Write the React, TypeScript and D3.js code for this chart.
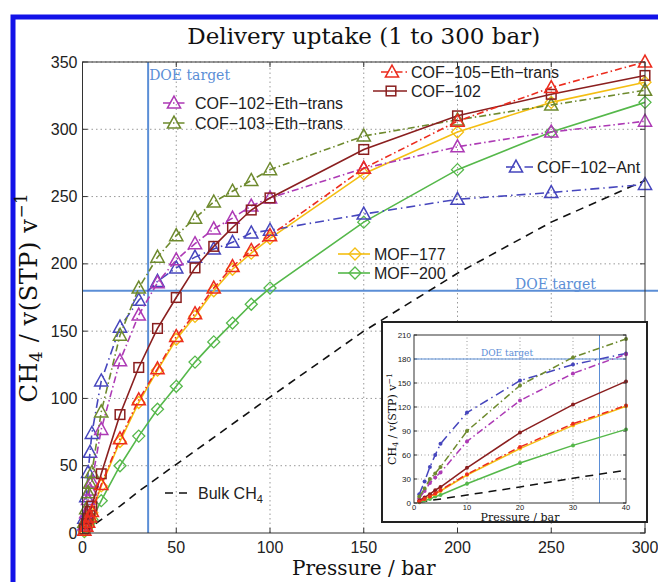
import React from 'react';
import * as d3 from 'd3';

// pressures (bar) shared by all adsorbent series
const pressures = [1, 2, 3, 4, 5, 10, 20, 30, 40, 50, 60, 70, 80, 90, 100, 150, 200, 250, 300];

const cof105EthTrans = [2, 5, 8, 12, 16, 36, 70, 99, 122, 146, 163, 182, 198, 210, 221, 271, 306, 331, 350];
const cof102 = [3, 7, 11, 16, 20, 44, 88, 123, 152, 175, 197, 213, 227, 240, 249, 285, 310, 326, 340];
const cof102EthTrans = [6, 15, 25, 32, 38, 77, 128, 162, 186, 203, 215, 226, 234, 243, 249, 271, 287, 298, 306];
const cof103EthTrans = [8, 18, 30, 37, 45, 90, 147, 182, 205, 221, 234, 246, 254, 262, 270, 295, 307, 318, 329];
const cof102Ant = [11, 27, 45, 60, 74, 113, 153, 173, 187, 197, 205, 211, 216, 223, 225, 237, 248, 253, 259];
const mof177 = [2, 5, 8, 11, 15, 35, 68, 97, 121, 144, 161, 180, 196, 208, 219, 267, 298, 320, 335];
const mof200 = [1, 3, 5, 8, 10, 24, 50, 72, 92, 109, 127, 142, 156, 170, 182, 231, 270, 298, 320];

const bulkPressures = [1, 10, 20, 30, 40, 50, 100, 150, 200, 250, 300];
const bulkCH4 = [1, 10, 20, 31, 41, 51, 101, 150, 193, 231, 262];

const doeTarget = 180;
const doePressure = 35;

const xTicks = [0, 50, 100, 150, 200, 250, 300];
const yTicks = [0, 50, 100, 150, 200, 250, 300, 350];
const insetXTicks = [0, 10, 20, 30, 40];
const insetYTicks = [0, 30, 60, 90, 120, 150, 180, 210];

const DASHDOT = '7,3,1.5,3';

const series = [
  { name: 'Bulk', values: bulkCH4, px: bulkPressures, color: '#111', dash: '8,6', marker: 'none' },
  { name: 'MOF−200', values: mof200, px: pressures, color: '#55b84a', dash: null, marker: 'diamond' },
  { name: 'MOF−177', values: mof177, px: pressures, color: '#f4be12', dash: null, marker: 'diamond' },
  { name: 'COF−102−Ant', values: cof102Ant, px: pressures, color: '#4646bd', dash: '9,4,1.5,4', marker: 'tri' },
  { name: 'COF−102−Eth−trans', values: cof102EthTrans, px: pressures, color: '#ad3ab5', dash: DASHDOT, marker: 'tri' },
  { name: 'COF−103−Eth−trans', values: cof103EthTrans, px: pressures, color: '#6e8a2e', dash: DASHDOT, marker: 'tri' },
  { name: 'COF−102', values: cof102, px: pressures, color: '#8a1f1f', dash: null, marker: 'square' },
  { name: 'COF−105−Eth−trans', values: cof105EthTrans, px: pressures, color: '#ec2c1e', dash: DASHDOT, marker: 'tri' },
];

// legend placement in pixels
const legend = [
  { s: 'COF−105−Eth−trans', x0: 381, x1: 407, mx: 392, tx: 411, y: 72 },
  { s: 'COF−102', x0: 373, x1: 407, mx: 391, tx: 411, y: 91 },
  { s: 'COF−102−Eth−trans', x0: 163, x1: 186, mx: 174, tx: 195, y: 103 },
  { s: 'COF−103−Eth−trans', x0: 163, x1: 186, mx: 174, tx: 195, y: 123 },
  { s: 'COF−102−Ant', x0: 506, x1: 533, mx: 516, tx: 537, y: 167 },
  { s: 'MOF−177', x0: 338, x1: 370, mx: 355, tx: 374, y: 254 },
  { s: 'MOF−200', x0: 338, x1: 370, mx: 355, tx: 374, y: 273 },
];

const SANS = "'Liberation Sans', Arial, sans-serif";
const SERIF = "'DejaVu Serif', serif";
const DOE = '#5b8ed6';

function Marker({ type, x, y, color, size = 12 }) {
  const s = size;
  if (type === 'tri') {
    const d = `M${x},${y - s * 0.58}L${x + s * 0.55},${y + s * 0.42}L${x - s * 0.55},${y + s * 0.42}Z`;
    return <path d={d} fill="none" stroke={color} strokeWidth={1.5} />;
  }
  if (type === 'square') {
    const h = s * 0.4;
    return <rect x={x - h} y={y - h} width={2 * h} height={2 * h} fill="none" stroke={color} strokeWidth={1.5} />;
  }
  if (type === 'diamond') {
    const h = s * 0.5;
    const d = `M${x},${y - h}L${x + h},${y}L${x},${y + h}L${x - h},${y}Z`;
    return <path d={d} fill="none" stroke={color} strokeWidth={1.3} />;
  }
  return null;
}

function YLabel({ x, y, size, spacing = 0 }) {
  return (
    <text transform={`translate(${x},${y}) rotate(-90)`} textAnchor="middle" fontFamily={SERIF} fontSize={size}
      letterSpacing={spacing} fill="#111">
      CH<tspan fontSize={size * 0.7} dy={size * 0.2}>4</tspan>
      <tspan dy={-size * 0.2}> / v(STP) v</tspan>
      <tspan fontSize={size * 0.7} dy={-size * 0.4}>−1</tspan>
    </text>
  );
}

export default function App() {
  const x = d3.scaleLinear().domain([0, 300]).range([82.5, 645]);
  const y = d3.scaleLinear().domain([0, 350]).range([533, 62]);

  const ix = d3.scaleLinear().domain([0, 40]).range([414, 626]);
  const iy = d3.scaleLinear().domain([0, 210]).range([503, 335]);

  const mainLine = (s) =>
    d3.line().x((d) => x(d[0])).y((d) => y(d[1]))(s.px.map((p, i) => [p, s.values[i]]));
  const insetLine = (s) =>
    d3.line().x((d) => ix(d[0])).y((d) => iy(d[1]))(
      s.px.map((p, i) => [p, s.values[i]]).filter((d) => d[0] <= 40)
    );

  const [x0, x1] = x.range();
  const [y0, y1] = y.range();
  const [ix0, ix1] = ix.range();
  const [iy0, iy1] = iy.range();

  return (
    <svg width={658} height={582} style={{ position: 'absolute', left: 0, top: 0, background: '#fff' }}>
      {/* blue frame */}
      <rect x={13} y={17} width={720} height={620} fill="none" stroke="#1212e8" strokeWidth={5} />

      <text x={(x0 + x1) / 2} y={44} textAnchor="middle" fontFamily={SERIF} fontSize={23} fill="#111">
        Delivery uptake (1 to 300 bar)
      </text>

      {/* grid */}
      {xTicks.slice(1, -1).map((t) => (
        <line key={'gx' + t} x1={x(t)} x2={x(t)} y1={y0} y2={y1} stroke="#999" strokeDasharray="1.5,3" />
      ))}
      {yTicks.slice(1, -1).map((t) => (
        <line key={'gy' + t} x1={x0} x2={x1} y1={y(t)} y2={y(t)} stroke="#999" strokeDasharray="1.5,3" />
      ))}
      <line x1={x0} x2={x1} y1={y1} y2={y1} stroke="#999" strokeDasharray="1.5,3" />

      {/* ticks */}
      {xTicks.map((t) => (
        <g key={'tx' + t}>
          <line x1={x(t)} x2={x(t)} y1={y0} y2={y0 - 5} stroke="#333" />
          <line x1={x(t)} x2={x(t)} y1={y1} y2={y1 + 5} stroke="#333" />
          <text x={x(t)} y={y0 + 20} textAnchor="middle" fontFamily={SANS} fontSize={16} fill="#222">{t}</text>
        </g>
      ))}
      {yTicks.map((t) => (
        <g key={'ty' + t}>
          <line x1={x0} x2={x0 + 5} y1={y(t)} y2={y(t)} stroke="#333" />
          <line x1={x1} x2={x1 - 5} y1={y(t)} y2={y(t)} stroke="#333" />
          <text x={x0 - 5} y={y(t) + 5.5} textAnchor="end" fontFamily={SANS} fontSize={16} fill="#222">{t}</text>
        </g>
      ))}

      {/* DOE target lines */}
      <line x1={x(doePressure)} x2={x(doePressure)} y1={y0} y2={y1} stroke={DOE} strokeWidth={2} />
      <line x1={x0} x2={658} y1={y(doeTarget)} y2={y(doeTarget)} stroke={DOE} strokeWidth={2} />
      <text x={x(doePressure) + 1} y={80} fontFamily={SERIF} fontSize={14} fill={DOE}>DOE target</text>
      <text x={515} y={289} fontFamily={SERIF} fontSize={14} fill={DOE}>DOE target</text>

      {/* series */}
      {series.map((s) => (
        <g key={s.name}>
          <path d={mainLine(s)} fill="none" stroke={s.color} strokeWidth={1.6} strokeDasharray={s.dash || undefined} />
          {s.px.map((p, i) => (
            <Marker key={i} type={s.marker} x={x(p)} y={y(s.values[i])} color={s.color} />
          ))}
        </g>
      ))}

      <rect x={x0} y={y1} width={x1 - x0} height={y0 - y1} fill="none" stroke="#333" strokeWidth={1} />

      {/* legends */}
      {legend.map((l) => {
        const s = series.find((d) => d.name === l.s);
        return (
          <g key={l.s}>
            <line x1={l.x0} x2={l.x1} y1={l.y} y2={l.y} stroke={s.color} strokeWidth={1.6} strokeDasharray={s.dash || undefined} />
            <Marker type={s.marker} x={l.mx} y={l.y} color={s.color} />
            <text x={l.tx} y={l.y + 6} fontFamily={SANS} fontSize={16} fill="#222">{l.s}</text>
          </g>
        );
      })}
      <line x1={165} x2={193} y1={493} y2={493} stroke="#111" strokeWidth={1.6} strokeDasharray="8,6" />
      <text x={198} y={499} fontFamily={SANS} fontSize={16} fill="#222">
        Bulk CH<tspan fontSize={11} dy={4}>4</tspan>
      </text>

      {/* inset */}
      <rect x={382} y={322} width={265} height={200} fill="#fff" stroke="#222" strokeWidth={2} />
      {insetXTicks.slice(1, -1).map((t) => (
        <line key={'igx' + t} x1={ix(t)} x2={ix(t)} y1={iy0} y2={iy1} stroke="#999" strokeDasharray="1,2.5" />
      ))}
      {insetYTicks.slice(1, -1).map((t) => (
        <line key={'igy' + t} x1={ix0} x2={ix1} y1={iy(t)} y2={iy(t)} stroke="#999" strokeDasharray="1,2.5" />
      ))}
      {insetXTicks.map((t) => (
        <text key={'itx' + t} x={ix(t)} y={iy0 + 7} textAnchor="middle" fontFamily={SANS} fontSize={7.5} fill="#222">{t}</text>
      ))}
      {insetYTicks.map((t) => (
        <g key={'ity' + t}>
          <line x1={ix0} x2={ix0 + 3} y1={iy(t)} y2={iy(t)} stroke="#333" />
          <line x1={ix1} x2={ix1 - 3} y1={iy(t)} y2={iy(t)} stroke="#333" />
          <text x={ix0 - 3} y={iy(t) + 3} textAnchor="end" fontFamily={SANS} fontSize={8} fill="#222">{t}</text>
        </g>
      ))}
      <line x1={ix(doePressure)} x2={ix(doePressure)} y1={iy0} y2={iy1} stroke={DOE} strokeWidth={1} />
      <line x1={ix0} x2={ix1} y1={iy(doeTarget)} y2={iy(doeTarget)} stroke={DOE} strokeWidth={1} />
      <text x={481} y={356} fontFamily={SERIF} fontSize={9} fill={DOE}>DOE target</text>
      {series.map((s) => (
        <g key={'in' + s.name}>
          <path d={insetLine(s)} fill="none" stroke={s.color} strokeWidth={1.5} strokeDasharray={s.dash || undefined} />
          {s.marker !== 'none' &&
            s.px.map((p, i) =>
              p <= 40 ? <circle key={i} cx={ix(p)} cy={iy(s.values[i])} r={2} fill={s.color} /> : null
            )}
        </g>
      ))}
      <rect x={ix0} y={iy1} width={ix1 - ix0} height={iy0 - iy1} fill="none" stroke="#333" strokeWidth={1} />
      <text x={(ix0 + ix1) / 2} y={520.5} textAnchor="middle" fontFamily={SERIF} fontSize={11} fill="#111">Pressure / bar</text>
      <YLabel x={396} y={(iy0 + iy1) / 2} size={11} />

      {/* axis labels */}
      <text x={(x0 + x1) / 2} y={575} textAnchor="middle" fontFamily={SERIF} fontSize={20} fill="#111">Pressure / bar</text>
      <YLabel x={37} y={(y0 + y1) / 2} size={24} spacing={0.6} />
    </svg>
  );
}
